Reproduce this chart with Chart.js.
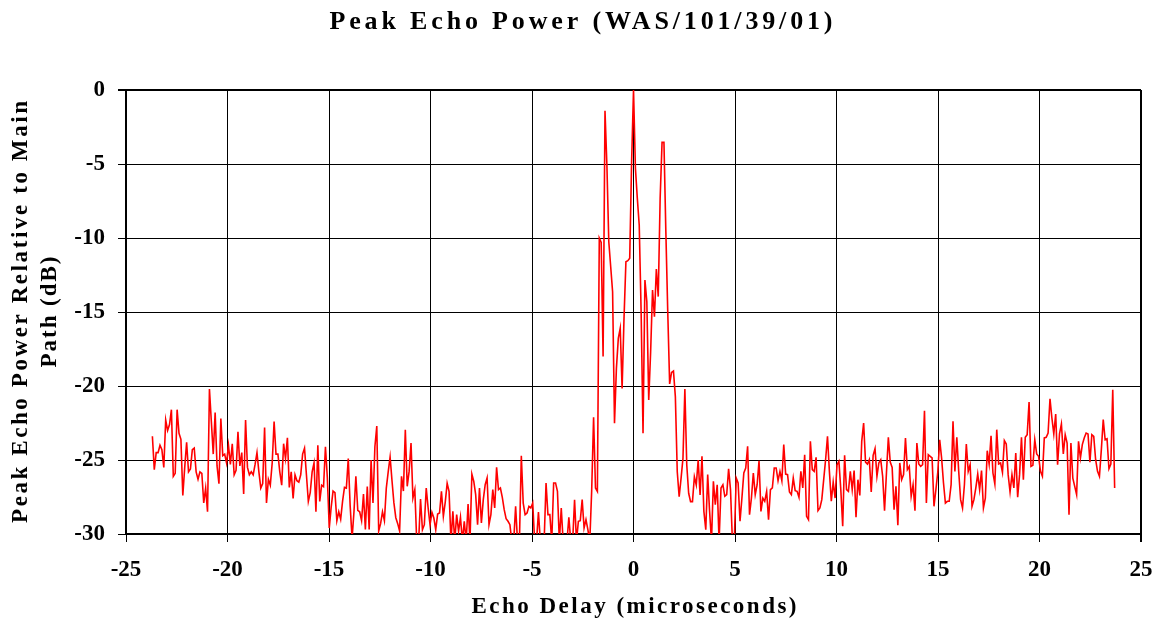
<!DOCTYPE html>
<html>
<head>
<meta charset="utf-8">
<script src="https://cdn.jsdelivr.net/npm/chart.js@4.4.1/dist/chart.umd.min.js"></script>
<style>
  html, body { margin: 0; padding: 0; background: #ffffff; }
  #wrap { width: 1159px; height: 624px; position: relative; }
</style>
</head>
<body>
<div id="wrap"><canvas id="c" width="1159" height="624"></canvas></div>
<script>
// ---------- texts ----------
const chartTitle = 'Peak Echo Power (WAS/101/39/01)';
const xAxisTitle = 'Echo Delay (microseconds)';
const yAxisTitleLines = ['Peak Echo Power Relative to Main', 'Path (dB)'];

// ---------- axes ----------
const xTickValues = [-25, -20, -15, -10, -5, 0, 5, 10, 15, 20, 25];
const yTickValues = [-30, -25, -20, -15, -10, -5, 0];

// ---------- sampling grid of the echo delay (microseconds) ----------
const delayStart = -23.7;
const delayStep = 0.09368;

// ---------- peak echo power (dB), in delay order ----------
const powerSeg1 = [
  -23.4, -25.65, -24.5, -24.5, -24.0, -24.3, -25.5, -22.3, -23.0, -22.6,
  -21.6, -26.1, -25.9, -21.6, -23.2, -23.6, -27.4, -25.5, -23.8, -25.8,
  -25.6, -24.3, -24.2, -25.8, -26.3, -25.8, -25.9, -27.9, -26.9, -28.5,
  -20.2, -22.4, -24.6, -21.8, -25.4, -26.6, -22.2, -24.7, -24.6, -25.2,
  -24.0, -25.3, -23.9, -26.0, -25.7, -23.1, -25.4, -24.5, -27.3, -22.3,
  -25.5, -26.0, -25.8, -26.0, -25.3, -24.5, -25.8, -26.9, -26.6, -22.8,
  -27.9, -26.3, -26.7, -25.2, -22.4
];
const powerSeg2 = [
  -24.6, -24.6, -25.8, -26.7, -23.9, -24.9, -23.5, -26.85, -25.8, -27.6,
  -26.0, -26.4, -26.5, -26.0, -24.6, -24.2, -26.0, -27.8, -27.2, -25.8,
  -25.2, -28.5, -24.0, -27.8, -26.7, -26.8, -24.1, -26.2, -29.6, -28.2,
  -27.1, -27.2, -29.1, -28.5, -29.0, -27.8, -26.85, -26.9, -24.9, -28.1,
  -30.3, -28.5, -26.1, -28.4, -28.5, -29.1, -27.3, -29.7, -26.8, -29.7,
  -25.0, -27.9, -24.1, -22.7, -29.8, -29.3, -28.5, -29.1, -26.9, -25.8,
  -24.8, -26.4, -27.9, -28.9, -29.3, -29.8, -26.1, -27.1
];
const powerSeg3 = [
  -22.95, -26.78, -25.77, -23.85, -27.57, -27.0, -30.5, -30.5, -27.64, -29.71,
  -29.37, -26.89, -28.24, -29.37, -28.54, -28.92, -29.71, -28.65, -28.58, -27.12,
  -28.81, -27.84, -26.58, -27.12, -30.5, -28.47, -30.5, -28.69, -29.82, -28.87,
  -30.5, -29.14, -30.5, -27.97, -30.5, -25.95, -26.44, -27.34, -29.37, -26.89,
  -29.26, -27.68, -26.67, -26.22, -29.37, -28.69, -27.0, -28.24, -25.5, -27.0,
  -26.89, -27.52, -28.36, -28.96, -29.14, -29.37, -30.5, -30.5, -28.13, -30.5,
  -30.5, -24.71, -27.91, -28.69, -28.58, -28.13
];
const powerSeg4 = [
  -28.24, -27.91, -30.5, -30.5, -28.51, -30.5, -30.5, -30.5, -26.55, -28.69,
  -28.69, -30.5, -26.55, -26.55, -27.12, -30.5, -28.24, -30.5, -30.5, -30.5,
  -28.87, -30.5, -30.5, -27.68, -30.5, -29.14, -29.1, -27.68, -29.59, -29.03,
  -29.71, -30.5, -27.07, -22.12, -26.89, -27.12
];
const powerMainPath = [
  -10.0, -10.3, -18.0, -1.4, -5.07, -10.25, -11.94, -13.63, -22.52, -18.81,
  -16.78, -16.1, -20.16, -15.43, -11.6, -11.53, -11.37, -4.84,
  0,
  -5.29, -7.32, -9.12, -14.98, -23.2, -12.84, -14.3, -20.95, -17.68, -13.51,
  -15.32, -12.09, -13.96, -7.32, -3.54, -3.54, -9.57, -14.98, -19.86, -19.08,
  -18.99, -20.72, -25.79, -27.48, -26.24, -24.89, -20.2, -25.34, -27.25, -27.81,
  -27.81, -26.13, -26.69, -25.0, -27.36
];
const powerSeg5 = [
  -24.75, -28.47, -29.71, -25.99, -28.47, -30.5, -26.44, -28.02, -26.67, -30.5,
  -26.89, -26.67, -27.45, -27.34, -25.59, -27.0, -30.5, -30.5, -26.22, -26.55,
  -29.14, -27.57, -25.88, -25.54, -24.08, -28.69, -27.57, -25.88, -27.34, -26.67,
  -25.05, -28.47, -27.57, -27.79, -27.12, -29.03, -27.0, -26.89, -25.54, -25.54,
  -26.4, -25.77, -26.4, -23.96, -25.95, -25.99, -27.16, -27.34, -26.22, -27.07,
  -27.12, -27.52, -25.77, -26.89, -24.64, -28.81, -29.03, -23.74, -25.65, -25.77,
  -24.82, -28.42, -28.24
];
const powerSeg6 = [
  -27.68, -26.33, -24.98, -23.4, -25.77, -27.79, -26.49, -27.57, -25.32,
  -25.09, -27.0, -29.48, -24.68, -27.0, -27.12, -25.77, -27.0, -25.72, -28.87,
  -26.33, -27.39, -23.74, -22.5, -25.14, -25.27, -24.98, -27.16, -24.68, -24.23,
  -26.1, -25.2, -24.98, -26.1, -28.42, -25.88, -23.47, -25.14, -25.5,
  -28.36, -26.78, -29.41, -25.2, -26.33, -25.99, -23.51, -25.65, -25.43, -27.45,
  -26.67, -28.42, -23.85, -25.27, -25.43, -25.32, -21.67, -27.91, -24.64, -24.75,
  -24.86, -28.13, -27.0, -25.81, -23.63, -24.86
];
const powerSeg7 = [
  -26.55, -27.91, -27.79, -27.79, -26.67, -22.39, -25.77, -23.47, -25.77, -27.68,
  -28.24, -26.67, -23.92, -25.77, -25.32, -28.13, -27.68, -26.89, -25.95, -27.0,
  -25.72, -28.24, -27.57, -24.37, -25.27, -23.36, -25.88, -26.62, -22.95, -25.27,
  -25.2, -25.83, -23.69, -23.92, -25.99, -27.16, -25.99, -26.89, -24.53, -27.52,
  -25.99, -23.47, -26.33, -23.47, -23.29, -21.08, -25.43, -25.36, -23.63, -24.59,
  -24.75, -25.77, -26.1, -23.51, -23.47, -23.18, -20.86, -22.16, -23.24, -21.89,
  -25.32, -23.24, -22.57, -24.59, -23.29, -23.85, -28.69
];
const powerSeg8 = [
  -23.85, -26.22, -26.78, -27.34, -23.74, -24.86, -23.96, -23.51, -23.18, -23.24,
  -25.14, -23.29, -23.4, -24.98, -25.77, -26.1, -24.3, -22.27, -23.63, -23.56,
  -25.59, -25.27, -20.25, -26.89
];

const peakPower = [].concat(powerSeg1, powerSeg2, powerSeg3, powerSeg4,
  powerMainPath, powerSeg5, powerSeg6, powerSeg7, powerSeg8);
const points = peakPower.map((v, i) => ({ x: delayStart + i * delayStep, y: v }));

// ---------- styling ----------
const serif = '"Liberation Serif", "Times New Roman", Times, serif';

function drawSpaced(ctx, text, cx, cy, size, width, rot) {
  ctx.save();
  ctx.font = 'bold ' + size + 'px ' + serif;
  ctx.fillStyle = '#000000';
  ctx.textAlign = 'left';
  ctx.textBaseline = 'middle';
  ctx.letterSpacing = '0px';
  const w = ctx.measureText(text).width;
  const n = Array.from(text).length;
  const sp = Math.max(0, (width - w) / (n - 1));
  ctx.letterSpacing = sp + 'px';
  ctx.translate(cx, cy);
  if (rot) ctx.rotate(rot);
  ctx.fillText(text, -width / 2, 0);
  ctx.restore();
}

const spacedTitles = {
  id: 'spacedTitles',
  afterDraw(chart) {
    const ctx = chart.ctx;
    const a = chart.chartArea;
    drawSpaced(ctx, chartTitle, 581, 22, 26, 503, 0);
    drawSpaced(ctx, xAxisTitle, 634, 607, 23, 325, 0);
    const cy = (a.top + a.bottom) / 2;
    drawSpaced(ctx, yAxisTitleLines[0], 21, cy, 23, 422, -Math.PI / 2);
    drawSpaced(ctx, yAxisTitleLines[1], 50, cy, 23, 111, -Math.PI / 2);
  }
};

new Chart(document.getElementById('c'), {
  type: 'line',
  data: {
    datasets: [{
      label: 'Peak echo power',
      data: points,
      borderColor: '#ff0000',
      borderWidth: 1.6,
      pointRadius: 0,
      tension: 0,
      fill: false
    }]
  },
  options: {
    responsive: false,
    animation: false,
    devicePixelRatio: 1,
    layout: { padding: { top: 90, right: 18, left: 0, bottom: 0 } },
    plugins: {
      legend: { display: false },
      title: { display: false },
      tooltip: { enabled: false }
    },
    scales: {
      x: {
        type: 'linear',
        min: -25, max: 25,
        afterFit: s => { s.height = 90; s.paddingLeft = 0; s.paddingRight = 0; },
        afterBuildTicks: s => { s.ticks = xTickValues.map(v => ({ value: v })); },
        grid: {
          color: '#000000',
          lineWidth: c => (c.tick && c.tick.value === 25) ? 2 : 1,
          drawTicks: true, tickLength: 8, tickColor: '#000000'
        },
        border: { display: true, color: '#000000', width: 2 },
        ticks: {
          color: '#000000', padding: 14, maxRotation: 0, autoSkip: false,
          font: { family: serif, size: 23, weight: 'bold' },
          callback: v => String(v)
        }
      },
      y: {
        type: 'linear',
        min: -30, max: 0,
        afterFit: s => { s.width = 126; s.paddingTop = 0; s.paddingBottom = 0; },
        afterBuildTicks: s => { s.ticks = yTickValues.map(v => ({ value: v })); },
        grid: {
          color: '#000000',
          lineWidth: c => (c.tick && c.tick.value === 0) ? 2 : 1,
          drawTicks: true, tickLength: 8, tickColor: '#000000'
        },
        border: { display: true, color: '#000000', width: 2 },
        ticks: {
          color: '#000000', padding: 13, autoSkip: false,
          font: { family: serif, size: 23, weight: 'bold' },
          callback: v => String(v)
        }
      }
    }
  },
  plugins: [spacedTitles]
});
</script>
</body>
</html>
